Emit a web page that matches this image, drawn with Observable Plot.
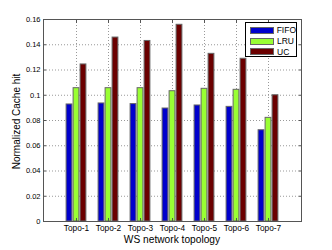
<!DOCTYPE html>
<html>
<head>
<meta charset="utf-8">
<script src="https://cdn.jsdelivr.net/npm/d3@7"></script>
<script src="https://cdn.jsdelivr.net/npm/@observablehq/plot@0.6"></script>
<style>
  html, body { margin: 0; padding: 0; background: #fff; }
  #wrap { position: relative; width: 332px; height: 250px; font-family: "Liberation Sans", Arial, sans-serif; }
  #legend { position: absolute; left: 245px; top: 22px; width: 52px; height: 35px; border: 1px solid #000; background: #fff; box-sizing: border-box; font-size: 8.5px; padding: 2px 0 0 4px; }
  #legend .row { display: flex; align-items: center; height: 10.8px; }
  #legend .sw { width: 24px; height: 7px; margin-right: 3px; border: 1px solid #666; box-sizing: border-box; }
</style>
</head>
<body>
<div id="wrap"></div>
<script>
const topologies = ["Topo-1", "Topo-2", "Topo-3", "Topo-4", "Topo-5", "Topo-6", "Topo-7"];
const fifo = [0.0927, 0.0935, 0.0930, 0.0895, 0.0919, 0.0908, 0.0723];
const lru  = [0.1056, 0.1056, 0.1056, 0.1032, 0.1051, 0.1043, 0.0821];
const uc   = [0.1244, 0.1457, 0.1430, 0.1558, 0.1328, 0.1289, 0.1000];
const seriesNames = ["FIFO", "LRU", "UC"];
const seriesColors = ["#0000cc", "#99ff33", "#6b0000"];
const yTicks = [0, 0.02, 0.04, 0.06, 0.08, 0.1, 0.12, 0.14, 0.16];

const seriesValues = [fifo, lru, uc];
const offsets = [-7, 0, 7];
const rows = s => topologies.map((t, i) => ({topo: t, value: seriesValues[s][i]}));

const barMarks = seriesNames.map((name, s) =>
  Plot.barY(rows(s), {
    x: "topo", y: "value", fill: seriesColors[s], stroke: "#666", strokeWidth: 1,
    dx: offsets[s], insetLeft: 13.1, insetRight: 13.1
  })
);

const chart = Plot.plot({
  width: 332, height: 250,
  marginLeft: 43, marginRight: 31, marginTop: 19, marginBottom: 29,
  style: {fontFamily: "Liberation Sans, Arial, sans-serif", fontSize: "7.5px", background: "#fff", color: "#000"},
  x: {type: "band", domain: topologies, paddingInner: 0, paddingOuter: 0.5, label: null},
  y: {domain: [0, 0.16], ticks: yTicks, label: null},
  marks: [
    Plot.gridY(yTicks, {stroke: "#999", strokeOpacity: 1, strokeDasharray: "1,2"}),
    Plot.gridX(topologies, {stroke: "#999", strokeOpacity: 1, strokeDasharray: "1,2"}),
    ...barMarks,
    Plot.axisY(yTicks, {tickSize: 0, tickPadding: 3, tickFormat: d => d === 0 ? "0" : String(+d.toFixed(2)), label: null, fontSize: 7.5}),
    Plot.axisY(yTicks, {tickSize: -3, text: null, label: null, stroke: "#555"}),
    Plot.axisY(yTicks, {anchor: "right", tickSize: -3, text: null, label: null, stroke: "#555"}),
    Plot.axisX(topologies, {tickSize: 0, tickPadding: 4, label: null, fontSize: 8.3}),
    Plot.axisX(topologies, {tickSize: -3, text: null, label: null, stroke: "#555"}),
    Plot.axisX(topologies, {anchor: "top", tickSize: -3, text: null, label: null, stroke: "#555"}),
    Plot.frame({stroke: "#555", strokeWidth: 1})
  ]
});

const wrap = document.getElementById("wrap");
wrap.appendChild(chart);

// axis titles as SVG text
const svg = d3.select(chart);
svg.append("text")
  .attr("x", 172).attr("y", 243)
  .attr("text-anchor", "middle")
  .attr("font-size", 10.2)
  .attr("font-family", "Liberation Sans, Arial, sans-serif")
  .text("WS network topology");
svg.append("text")
  .attr("transform", "translate(19.5,121.5) rotate(-90)")
  .attr("text-anchor", "middle")
  .attr("font-size", 10)
  .attr("font-family", "Liberation Sans, Arial, sans-serif")
  .text("Normalized Cache hit");

// legend
const legend = document.createElement("div");
legend.id = "legend";
seriesNames.forEach((n, i) => {
  const row = document.createElement("div");
  row.className = "row";
  const sw = document.createElement("div");
  sw.className = "sw";
  sw.style.background = seriesColors[i];
  const lab = document.createElement("span");
  lab.textContent = n;
  row.appendChild(sw); row.appendChild(lab);
  legend.appendChild(row);
});
wrap.appendChild(legend);
</script>
</body>
</html>
